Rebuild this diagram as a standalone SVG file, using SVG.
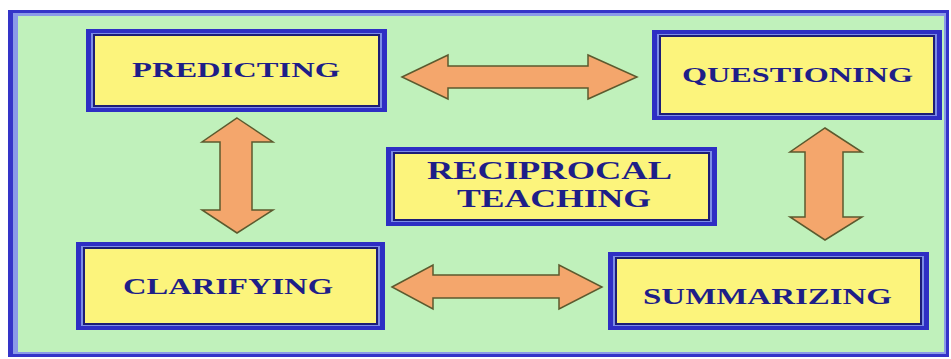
<svg xmlns="http://www.w3.org/2000/svg" width="951" height="359" viewBox="0 0 951 359">
<style>
.b1{fill:#2e2ec4}
.b2{fill:#7c8ce6}
.b3{fill:#1c1c78}
.b4{fill:#fcf47c}
.t{font-family:"Liberation Serif","Times New Roman",serif;font-weight:bold;fill:#1e1e88}
.arrow{fill:#f4a66c;stroke:#5c5a2e;stroke-width:1.5;stroke-linejoin:miter}
</style>
<rect x="0" y="0" width="951" height="359" fill="#ffffff"/>
<g id="frame">
<rect x="8" y="10" width="941" height="347" fill="#3434c8"/>
<rect x="13" y="13" width="933" height="341" fill="#8a9ae8"/>
<rect x="18" y="16" width="926" height="336" fill="#c0f1bb"/>
</g>
<g id="connectors">
<polygon class="arrow" points="402,77 448,55 448,66 588,66 588,55 637,77 588,99 588,88 448,88 448,99"/>
<polygon class="arrow" points="392,287 433,265 433,275 559,275 559,265 602,287 559,309 559,298 433,298 433,309"/>
<polygon class="arrow" points="237,118 273,142 252,142 252,210 273,210 237,233 202,210 220,210 220,142 202,142"/>
<polygon class="arrow" points="825,128 862,152 843,152 843,217 862,217 825,240 790,217 805,217 805,152 790,152"/>
</g>
<g id="predicting">
<rect class="b1" x="86" y="29" width="301" height="83"/>
<rect class="b2" x="91" y="33" width="291" height="75"/>
<rect class="b3" x="93" y="34" width="287" height="73"/>
<rect class="b4" x="95" y="36" width="283" height="69"/>
<text class="t" x="132" y="77" font-size="22" textLength="208" lengthAdjust="spacingAndGlyphs">PREDICTING</text>
</g>
<g id="questioning">
<rect class="b1" x="652" y="30" width="290" height="90"/>
<rect class="b2" x="657" y="34" width="280" height="82"/>
<rect class="b3" x="659" y="35" width="276" height="80"/>
<rect class="b4" x="661" y="37" width="272" height="76"/>
<text class="t" x="682" y="82" font-size="22" textLength="231" lengthAdjust="spacingAndGlyphs">QUESTIONING</text>
</g>
<g id="reciprocal-teaching">
<rect class="b1" x="386" y="147" width="331" height="79"/>
<rect class="b2" x="391" y="151" width="321" height="71"/>
<rect class="b3" x="393" y="152" width="317" height="69"/>
<rect class="b4" x="395" y="154" width="313" height="65"/>
<text class="t" x="427" y="179" font-size="25" textLength="245" lengthAdjust="spacingAndGlyphs">RECIPROCAL</text>
<text class="t" x="457" y="207" font-size="25" textLength="194" lengthAdjust="spacingAndGlyphs">TEACHING</text>
</g>
<g id="clarifying">
<rect class="b1" x="76" y="242" width="309" height="88"/>
<rect class="b2" x="81" y="246" width="299" height="80"/>
<rect class="b3" x="83" y="247" width="295" height="78"/>
<rect class="b4" x="85" y="249" width="291" height="74"/>
<text class="t" x="123" y="294" font-size="23" textLength="210" lengthAdjust="spacingAndGlyphs">CLARIFYING</text>
</g>
<g id="summarizing">
<rect class="b1" x="608" y="252" width="321" height="78"/>
<rect class="b2" x="613" y="256" width="311" height="70"/>
<rect class="b3" x="615" y="257" width="307" height="68"/>
<rect class="b4" x="617" y="259" width="303" height="64"/>
<text class="t" x="643" y="304" font-size="23" textLength="249" lengthAdjust="spacingAndGlyphs">SUMMARIZING</text>
</g>
</svg>
